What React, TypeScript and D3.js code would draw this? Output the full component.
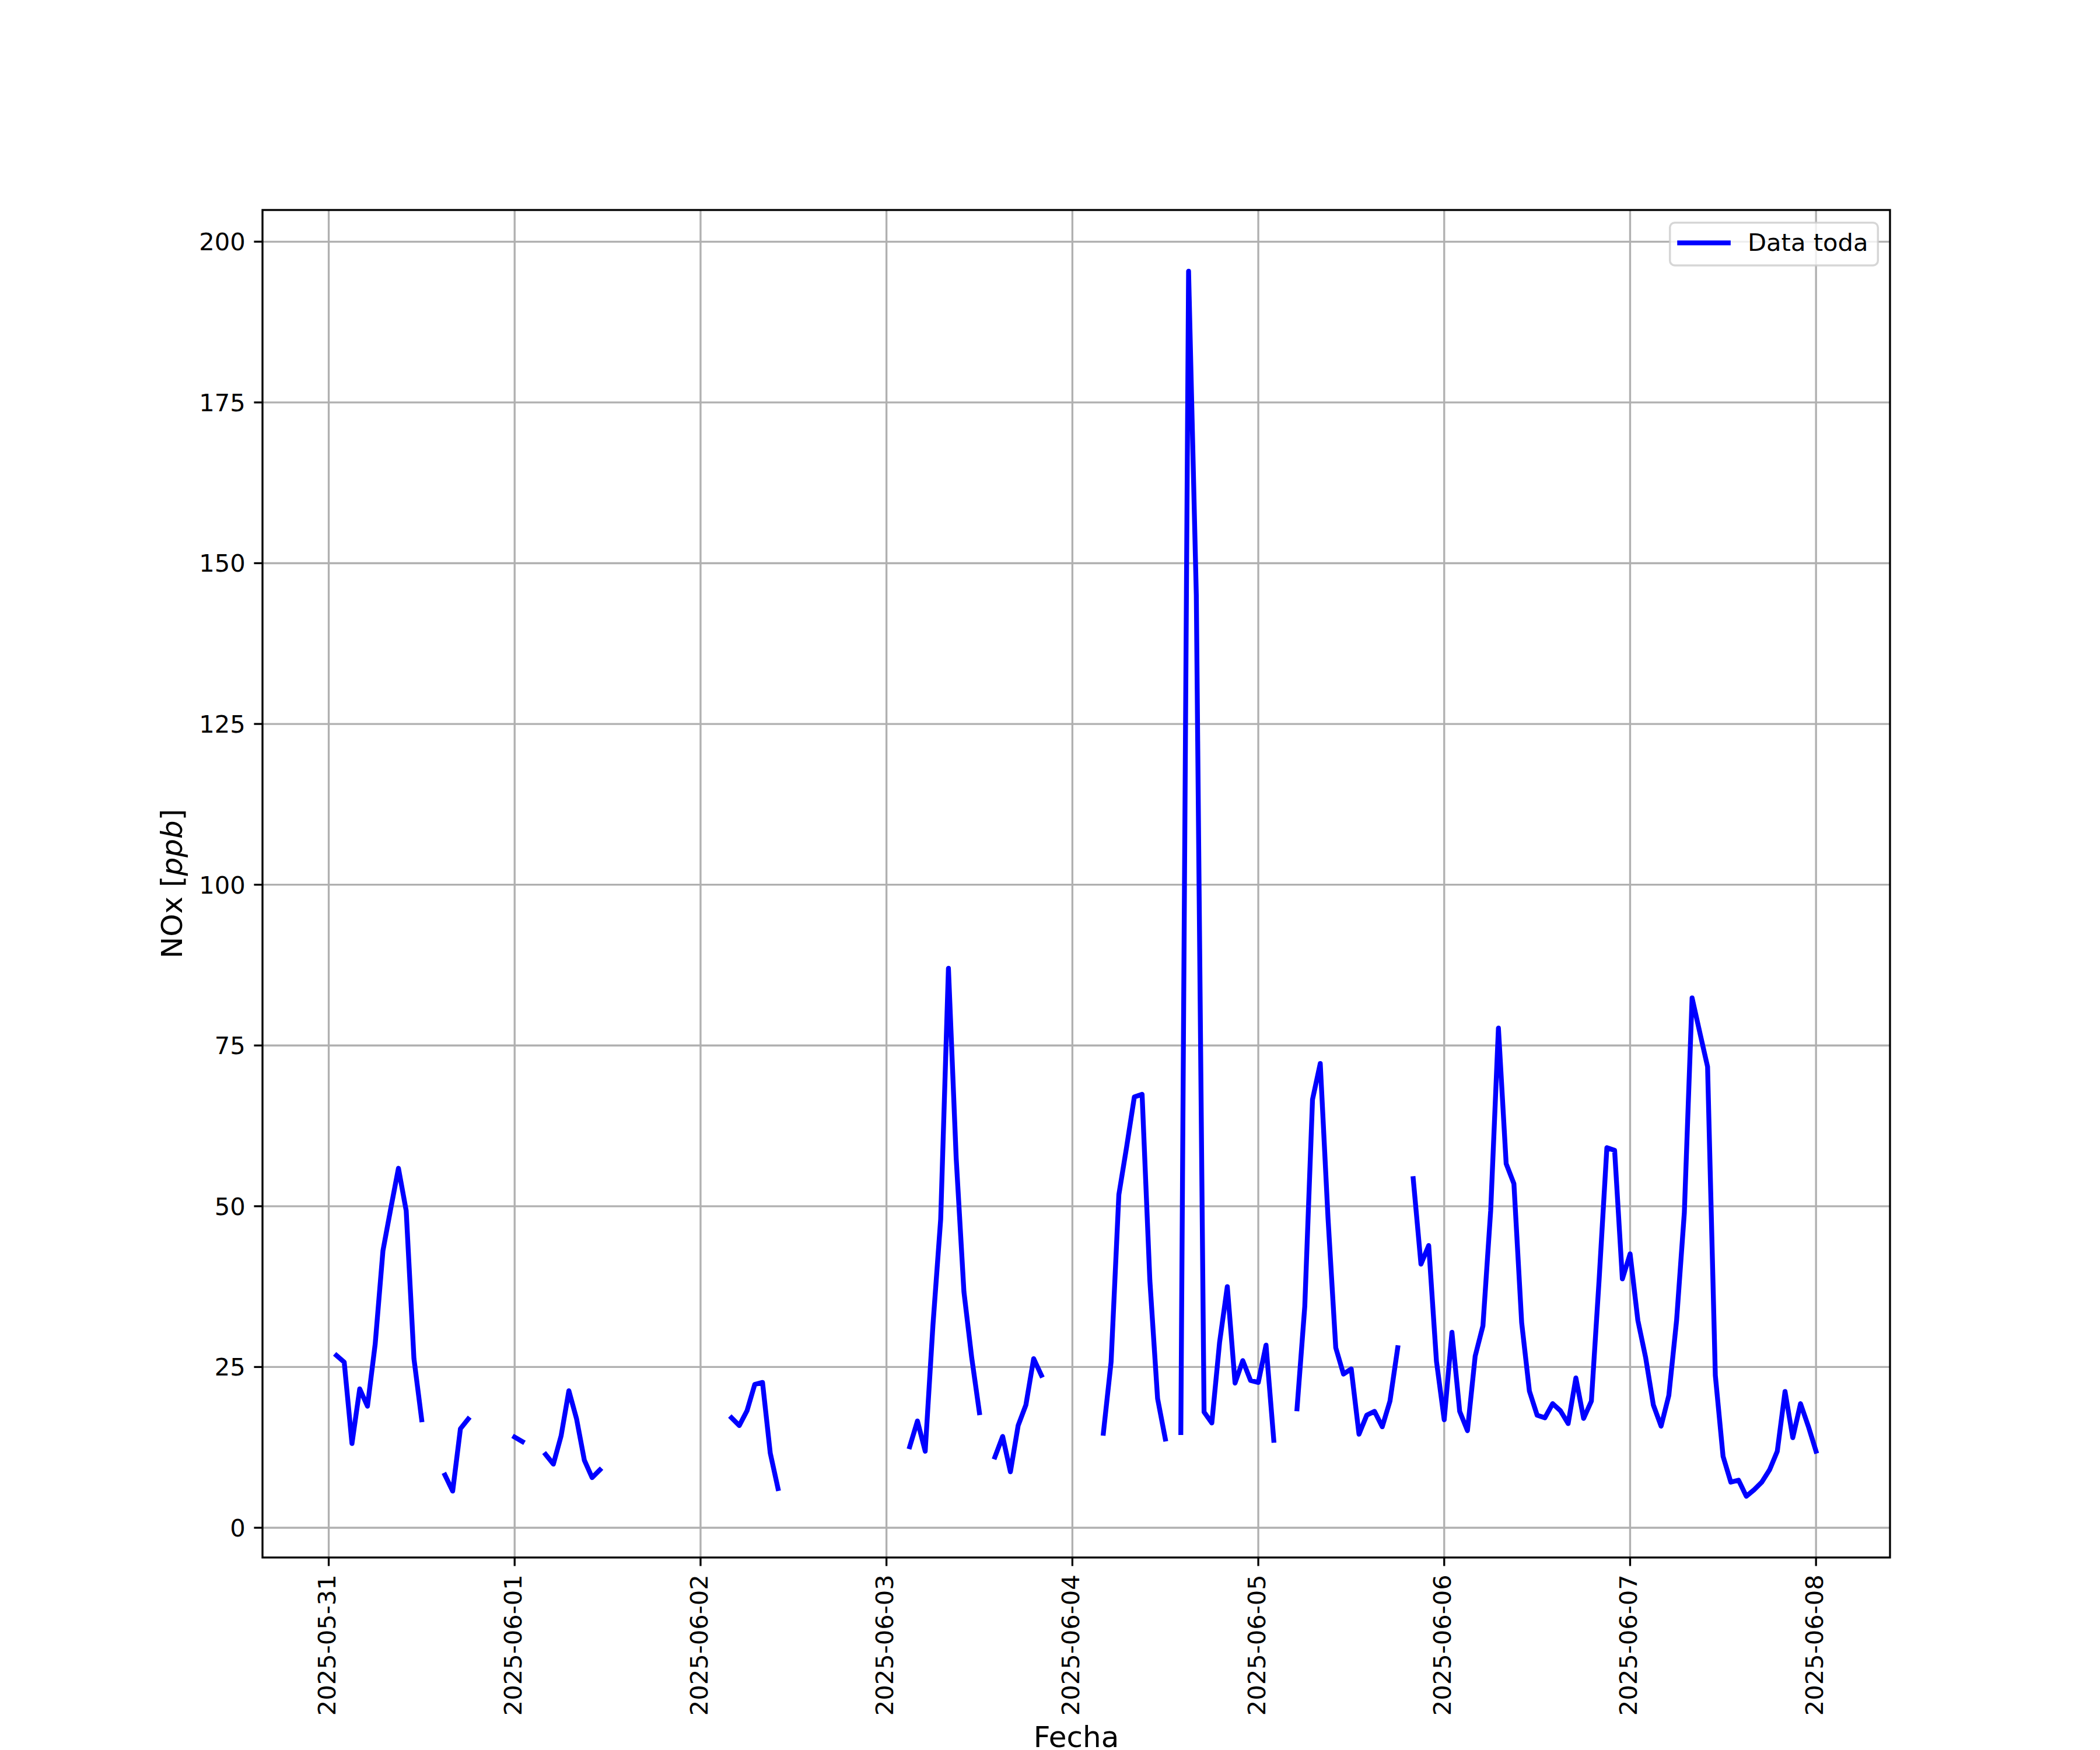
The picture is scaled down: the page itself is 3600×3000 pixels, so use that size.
import React from "react";
import * as d3 from "d3";

// Hourly NOx values (ppb); null = missing hour. Each day array starts at 00:00 UTC.
const d0531 = [null, 26.8, 25.75, 13.1, 21.6, 18.9, 28.6, 43.1, 49.6, 55.9, 49.3, 26.3, 16.8, null, null, 8.2, 5.7, 15.4, 16.9, null, null, null, null, null];
const d0601 = [14.1, 13.4, null, null, 11.4, 9.9, 14.3, 21.3, 16.9, 10.5, 7.8, 9.0, null, null, null, null, null, null, null, null, null, null, null, null];
const d0602 = [null, null, null, null, 17.1, 15.9, 18.2, 22.3, 22.6, 11.6, 6.1, null, null, null, null, null, null, null, null, null, null, null, null, null];
const d0603 = [null, null, null, 12.6, 16.6, 11.9, 31.5, 48.0, 87.0, 57.5, 36.7, 26.5, 17.9, null, 11.0, 14.2, 8.7, 15.9, 19.1, 26.3, 23.7, null, null, null];
const d0604 = [null, null, null, null, 14.7, 25.8, 51.8, 59.2, 67.0, 67.4, 38.5, 20.1, 13.8, null, 14.8, 195.4, 145.0, 18.0, 16.3, 28.8, 37.5, 22.5, 26.0, 22.9];
const d0605 = [22.6, 28.4, 13.6, null, null, 18.5, 34.4, 66.6, 72.2, 48.2, 28.0, 23.9, 24.7, 14.55, 17.5, 18.1, 15.7, 19.7, 28.0, null, 54.3, 41.0, 43.9, 25.9];
const d0606 = [16.8, 30.4, 18.1, 15.1, 26.7, 31.4, 49.3, 77.7, 56.6, 53.5, 31.9, 21.25, 17.5, 17.1, 19.3, 18.2, 16.2, 23.3, 17.0, 19.7, 38.6, 59.1, 58.7, 38.7];
const d0607 = [42.6, 32.25, 26.5, 19.1, 15.8, 20.6, 32.25, 49.0, 82.4, 77.0, 71.7, 23.7, 11.1, 7.1, 7.4, 4.9, 5.9, 7.1, 9.0, 11.9, 21.2, 14.0, 19.3, 15.8];
const d0608 = [11.9];

const dayDates = ["2025-05-31", "2025-06-01", "2025-06-02", "2025-06-03", "2025-06-04", "2025-06-05", "2025-06-06", "2025-06-07", "2025-06-08"];
const dayValues = [d0531, d0601, d0602, d0603, d0604, d0605, d0606, d0607, d0608];

const xTickLabels = ["2025-05-31", "2025-06-01", "2025-06-02", "2025-06-03", "2025-06-04", "2025-06-05", "2025-06-06", "2025-06-07", "2025-06-08"];
const yTicks = [0, 25, 50, 75, 100, 125, 150, 175, 200];

const seriesName = "Data toda";
const xTitle = "Fecha";

const W = 3600;
const H = 3000;
const AX = { left: 450, right: 3240, top: 360, bottom: 2670 };
const FONT = "DejaVu Sans";
const TICK_FS = 41.67;
const LABEL_FS = 50;
const GRID = "#b0b0b0";
const LINE_COLOR = "#0000ff";

type Pt = { t: Date; v: number | null };

export default function App() {
  const parse = d3.utcParse("%Y-%m-%d");
  const points: Pt[] = [];
  dayDates.forEach((ds, di) => {
    const base = parse(ds)!.getTime();
    dayValues[di].forEach((v, h) => {
      points.push({ t: new Date(base + h * 3600e3), v: v as number | null });
    });
  });
  const valid = points.filter((p) => p.v != null);
  const [t0, t1] = d3.extent(valid, (p) => p.t.getTime()) as [number, number];
  const tspan = t1 - t0;
  const x = d3
    .scaleUtc()
    .domain([new Date(t0 - 0.05 * tspan), new Date(t1 + 0.05 * tspan)])
    .range([AX.left, AX.right]);
  const [v0, v1] = d3.extent(valid, (p) => p.v as number) as [number, number];
  const vspan = v1 - v0;
  const y = d3
    .scaleLinear()
    .domain([v0 - 0.05 * vspan, v1 + 0.05 * vspan])
    .range([AX.bottom, AX.top]);

  const lineGen = d3
    .line<Pt>()
    .defined((p) => p.v != null)
    .x((p) => x(p.t))
    .y((p) => y(p.v as number));
  const pathD = lineGen(points) || "";

  const xTicks = xTickLabels.map((s) => ({ label: s, t: parse(s)! }));
  const tickLen = 14.58;
  const tickW = 3.33;
  const pad = 14.58;

  // legend geometry
  const lg = { x: 2862.7, y: 381.7, w: 356.6, h: 73.3 };

  return (
    <svg
      width={W}
      height={H}
      viewBox={`0 0 ${W} ${H}`}
      style={{ position: "absolute", left: 0, top: 0, display: "block", background: "#fff" }}
      fontFamily={FONT}
    >
      <rect x={0} y={0} width={W} height={H} fill="#fff" />
      {/* grid */}
      <g stroke={GRID} strokeWidth={3.33}>
        {yTicks.map((v) => (
          <line key={"gy" + v} x1={AX.left} x2={AX.right} y1={y(v)} y2={y(v)} />
        ))}
        {xTicks.map((d) => (
          <line key={"gx" + d.label} x1={x(d.t)} x2={x(d.t)} y1={AX.top} y2={AX.bottom} />
        ))}
      </g>
      {/* data line */}
      <path
        d={pathD}
        fill="none"
        stroke={LINE_COLOR}
        strokeWidth={8.33}
        strokeLinejoin="round"
        strokeLinecap="square"
      />
      {/* spines */}
      <rect
        x={AX.left}
        y={AX.top}
        width={AX.right - AX.left}
        height={AX.bottom - AX.top}
        fill="none"
        stroke="#000"
        strokeWidth={3.33}
      />
      {/* y ticks */}
      <g>
        {yTicks.map((v) => (
          <g key={"yt" + v}>
            <line x1={AX.left - tickLen} x2={AX.left} y1={y(v)} y2={y(v)} stroke="#000" strokeWidth={tickW} />
            <text
              x={AX.left - tickLen - pad}
              y={y(v) + 0.36 * TICK_FS}
              fontSize={TICK_FS}
              textAnchor="end"
              fill="#000"
            >
              {v}
            </text>
          </g>
        ))}
      </g>
      {/* x ticks */}
      <g>
        {xTicks.map((d) => {
          const xx = x(d.t);
          return (
            <g key={"xt" + d.label}>
              <line x1={xx} x2={xx} y1={AX.bottom} y2={AX.bottom + tickLen} stroke="#000" strokeWidth={tickW} />
              <text
                transform={`translate(${xx + 0.28 * TICK_FS},${AX.bottom + tickLen + pad}) rotate(-90)`}
                fontSize={TICK_FS}
                textAnchor="end"
                fill="#000"
              >
                {d.label}
              </text>
            </g>
          );
        })}
      </g>
      {/* axis labels */}
      <text x={(AX.left + AX.right) / 2} y={2995} fontSize={LABEL_FS} textAnchor="middle" fill="#000">
        {xTitle}
      </text>
      <text
        transform={`translate(312,${(AX.top + AX.bottom) / 2}) rotate(-90)`}
        fontSize={LABEL_FS}
        textAnchor="middle"
        fill="#000"
      >
        NOx [<tspan fontStyle="italic">ppb</tspan>]
      </text>
      {/* legend */}
      <g>
        <rect
          x={lg.x}
          y={lg.y}
          width={lg.w}
          height={lg.h}
          rx={8.3}
          ry={8.3}
          fill="#fff"
          fillOpacity={0.8}
          stroke="#cccccc"
          strokeOpacity={0.8}
          strokeWidth={3.5}
        />
        <line
          x1={lg.x + 16.7}
          x2={lg.x + 16.7 + 83.3}
          y1={lg.y + lg.h / 2 - 2}
          y2={lg.y + lg.h / 2 - 2}
          stroke={LINE_COLOR}
          strokeWidth={8.33}
          strokeLinecap="square"
        />
        <text x={lg.x + 16.7 + 83.3 + 33.3} y={430} fontSize={TICK_FS} fill="#000">
          {seriesName}
        </text>
      </g>
    </svg>
  );
}
